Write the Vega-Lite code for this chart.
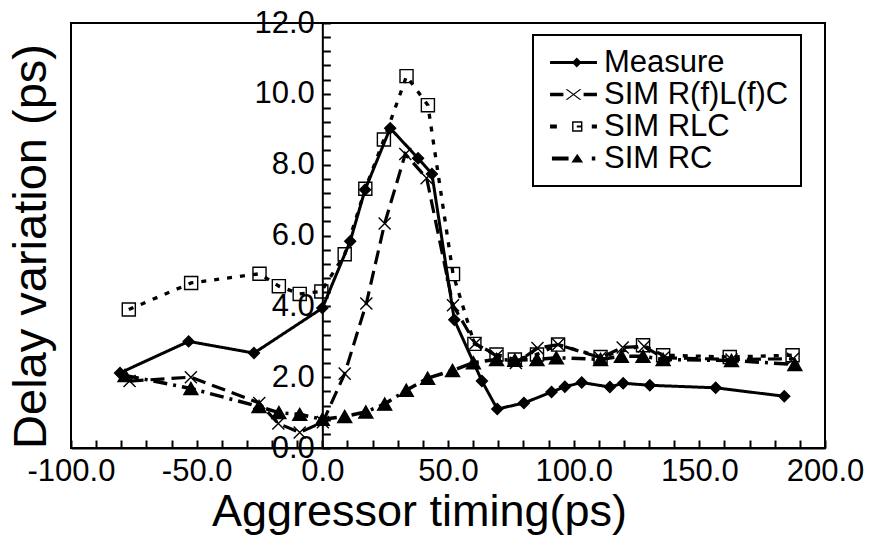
{
  "$schema": "https://vega.github.io/schema/vega-lite/v6.json",
  "width": 754,
  "height": 425,
  "autosize": "none",
  "padding": {"left": 71, "top": 23, "right": 49, "bottom": 89},
  "background": "white",
  "data": {
    "values": [
      {"series": "Measure", "x": -80.5, "y": 2.12},
      {"series": "Measure", "x": -53.2, "y": 3.01},
      {"series": "Measure", "x": -27.2, "y": 2.68},
      {"series": "Measure", "x": 0, "y": 3.95},
      {"series": "Measure", "x": 11.1, "y": 5.84},
      {"series": "Measure", "x": 17.0, "y": 7.29},
      {"series": "Measure", "x": 27.0, "y": 9.03},
      {"series": "Measure", "x": 38.1, "y": 8.18},
      {"series": "Measure", "x": 43.6, "y": 7.74},
      {"series": "Measure", "x": 52.5, "y": 3.62},
      {"series": "Measure", "x": 63.5, "y": 1.89},
      {"series": "Measure", "x": 69.6, "y": 1.1},
      {"series": "Measure", "x": 80.2, "y": 1.27},
      {"series": "Measure", "x": 91.2, "y": 1.58},
      {"series": "Measure", "x": 96.5, "y": 1.73},
      {"series": "Measure", "x": 103.2, "y": 1.85},
      {"series": "Measure", "x": 114.4, "y": 1.72},
      {"series": "Measure", "x": 119.7, "y": 1.83},
      {"series": "Measure", "x": 130.3, "y": 1.77},
      {"series": "Measure", "x": 156.5, "y": 1.7},
      {"series": "Measure", "x": 183.8, "y": 1.46},
      {"series": "SIM R(f)L(f)C", "x": -76.7, "y": 1.89},
      {"series": "SIM R(f)L(f)C", "x": -52.3, "y": 2.0},
      {"series": "SIM R(f)L(f)C", "x": -25.1, "y": 1.27},
      {"series": "SIM R(f)L(f)C", "x": -17.5, "y": 0.69},
      {"series": "SIM R(f)L(f)C", "x": -9.0, "y": 0.44},
      {"series": "SIM R(f)L(f)C", "x": 0.2, "y": 0.73},
      {"series": "SIM R(f)L(f)C", "x": 8.9, "y": 2.1},
      {"series": "SIM R(f)L(f)C", "x": 17.5, "y": 4.08},
      {"series": "SIM R(f)L(f)C", "x": 24.8, "y": 6.34},
      {"series": "SIM R(f)L(f)C", "x": 33.0, "y": 8.3},
      {"series": "SIM R(f)L(f)C", "x": 41.5, "y": 7.62},
      {"series": "SIM R(f)L(f)C", "x": 52.0, "y": 4.03},
      {"series": "SIM R(f)L(f)C", "x": 60.9, "y": 2.95},
      {"series": "SIM R(f)L(f)C", "x": 69.3, "y": 2.6},
      {"series": "SIM R(f)L(f)C", "x": 77.0, "y": 2.4},
      {"series": "SIM R(f)L(f)C", "x": 85.6, "y": 2.82},
      {"series": "SIM R(f)L(f)C", "x": 93.8, "y": 2.92},
      {"series": "SIM R(f)L(f)C", "x": 110.6, "y": 2.55},
      {"series": "SIM R(f)L(f)C", "x": 119.5, "y": 2.84},
      {"series": "SIM R(f)L(f)C", "x": 128.0, "y": 2.87},
      {"series": "SIM R(f)L(f)C", "x": 135.6, "y": 2.55},
      {"series": "SIM R(f)L(f)C", "x": 162.8, "y": 2.5},
      {"series": "SIM R(f)L(f)C", "x": 187.3, "y": 2.52},
      {"series": "SIM RLC", "x": -77.0, "y": 3.91},
      {"series": "SIM RLC", "x": -52.2, "y": 4.66},
      {"series": "SIM RLC", "x": -25.0, "y": 4.92},
      {"series": "SIM RLC", "x": -17.3, "y": 4.57},
      {"series": "SIM RLC", "x": -9.0, "y": 4.35},
      {"series": "SIM RLC", "x": -0.4, "y": 4.42},
      {"series": "SIM RLC", "x": 8.9, "y": 5.47},
      {"series": "SIM RLC", "x": 17.1, "y": 7.32},
      {"series": "SIM RLC", "x": 24.5, "y": 8.71},
      {"series": "SIM RLC", "x": 33.5, "y": 10.5},
      {"series": "SIM RLC", "x": 42.0, "y": 9.68},
      {"series": "SIM RLC", "x": 52.0, "y": 4.91},
      {"series": "SIM RLC", "x": 60.5, "y": 2.94},
      {"series": "SIM RLC", "x": 69.3, "y": 2.64},
      {"series": "SIM RLC", "x": 76.6, "y": 2.5},
      {"series": "SIM RLC", "x": 85.4, "y": 2.64},
      {"series": "SIM RLC", "x": 93.8, "y": 2.92},
      {"series": "SIM RLC", "x": 110.7, "y": 2.57},
      {"series": "SIM RLC", "x": 127.6, "y": 2.9},
      {"series": "SIM RLC", "x": 135.6, "y": 2.62},
      {"series": "SIM RLC", "x": 162.1, "y": 2.57},
      {"series": "SIM RLC", "x": 187.1, "y": 2.62},
      {"series": "SIM RC", "x": -78.5, "y": 2.05},
      {"series": "SIM RC", "x": -52.3, "y": 1.68},
      {"series": "SIM RC", "x": -25.2, "y": 1.17},
      {"series": "SIM RC", "x": -17.3, "y": 1.0},
      {"series": "SIM RC", "x": -9.0, "y": 0.95},
      {"series": "SIM RC", "x": 0, "y": 0.81},
      {"series": "SIM RC", "x": 8.9, "y": 0.89},
      {"series": "SIM RC", "x": 17.3, "y": 1.02},
      {"series": "SIM RC", "x": 24.8, "y": 1.24},
      {"series": "SIM RC", "x": 33.4, "y": 1.63},
      {"series": "SIM RC", "x": 41.9, "y": 1.97},
      {"series": "SIM RC", "x": 51.8, "y": 2.19},
      {"series": "SIM RC", "x": 60.1, "y": 2.41},
      {"series": "SIM RC", "x": 69.3, "y": 2.5},
      {"series": "SIM RC", "x": 76.6, "y": 2.48},
      {"series": "SIM RC", "x": 85.4, "y": 2.5},
      {"series": "SIM RC", "x": 93.1, "y": 2.55},
      {"series": "SIM RC", "x": 110.7, "y": 2.5},
      {"series": "SIM RC", "x": 119.0, "y": 2.59},
      {"series": "SIM RC", "x": 127.6, "y": 2.59},
      {"series": "SIM RC", "x": 135.6, "y": 2.5},
      {"series": "SIM RC", "x": 162.8, "y": 2.47},
      {"series": "SIM RC", "x": 188.0, "y": 2.36}
    ]
  },
  "encoding": {
    "x": {
      "field": "x",
      "type": "quantitative",
      "scale": {"domain": [-100, 200], "nice": false, "zero": false},
      "axis": {
        "title": "Aggressor timing(ps)",
        "values": [-100, -90, -80, -70, -60, -50, -40, -30, -20, -10, 0, 10, 20, 30, 40, 50, 60, 70, 80, 90, 100, 110, 120, 130, 140, 150, 160, 170, 180, 190, 200],
        "labelExpr": "datum.value % 50 === 0 ? replace(format(datum.value, '.1f'), '\u2212', '-') : ''",
        "tickSize": -8,
        "tickWidth": 2,
        "domainWidth": 2,
        "labelFontSize": 31,
        "labelPadding": 16,
        "labelFlush": false,
        "labelOverlap": false,
        "labelBound": false,
        "titleFontSize": 45,
        "titleX": 348,
        "titleY": 77,
        "titleAlign": "center",
        "titleBaseline": "alphabetic"
      }
    },
    "y": {
      "field": "y",
      "type": "quantitative",
      "scale": {"domain": [0, 12], "nice": false, "zero": false},
      "axis": {
        "title": "Delay variation (ps)",
        "offset": -251.33,
        "values": [0, 0.4, 0.8, 1.2, 1.6, 2, 2.4, 2.8, 3.2, 3.6, 4, 4.4, 4.8, 5.2, 5.6, 6, 6.4, 6.8, 7.2, 7.6, 8, 8.4, 8.8, 9.2, 9.6, 10, 10.4, 10.8, 11.2, 11.6, 12],
        "labelExpr": "abs(datum.value / 2 - round(datum.value / 2)) < 0.001 ? format(datum.value, '.1f') : ''",
        "tickSize": -8,
        "tickWidth": 2,
        "domainWidth": 2,
        "labelFontSize": 31,
        "labelPadding": 16,
        "labelFlush": false,
        "labelOverlap": false,
        "labelBound": false,
        "titleFontSize": 47,
        "titleAngle": -90,
        "titleX": -277,
        "titleY": 223,
        "titleAlign": "center",
        "titleBaseline": "alphabetic"
      }
    }
  },
  "layer": [
    {
      "mark": {"type": "line", "color": "black"},
      "encoding": {
        "detail": {"field": "series"},
        "strokeDash": {
          "field": "series",
          "scale": {"domain": ["Measure", "SIM R(f)L(f)C", "SIM RLC", "SIM RC"], "range": [[1, 0], [14, 7], [5, 8], [14, 6, 3, 6]]},
          "legend": null
        },
        "strokeWidth": {
          "field": "series",
          "scale": {"domain": ["Measure", "SIM R(f)L(f)C", "SIM RLC", "SIM RC"], "range": [3, 3.5, 3.5, 3.5]},
          "legend": null
        }
      }
    },
    {
      "mark": {"type": "point", "stroke": "black", "strokeWidth": 1.4, "opacity": 1},
      "encoding": {
        "shape": {
          "field": "series",
          "scale": {"domain": ["Measure", "SIM R(f)L(f)C", "SIM RLC", "SIM RC"], "range": ["diamond", "M-1,-1L1,1M1,-1L-1,1", "square", "triangle-up"]},
          "legend": null
        },
        "fill": {
          "field": "series",
          "scale": {"domain": ["Measure", "SIM R(f)L(f)C", "SIM RLC", "SIM RC"], "range": ["black", "transparent", "transparent", "black"]},
          "legend": null
        },
        "size": {
          "field": "series",
          "scale": {"domain": ["Measure", "SIM R(f)L(f)C", "SIM RLC", "SIM RC"], "range": [120, 196, 121, 150]},
          "legend": null
        }
      }
    },
    {
      "mark": {"type": "point", "filled": true, "color": "black", "opacity": 0},
      "encoding": {
        "shape": {
          "field": "series",
          "scale": {
            "domain": ["Measure", "SIM R(f)L(f)C", "SIM RLC", "SIM RC"],
            "range": [
              "M-1,-0.064H1V0.064H-1Z M0.14,-0.21L0.35,0L0.14,0.21L-0.07,0Z",
              "M-1,-0.07H-0.43V0.07H-1Z M0.43,-0.07H1V0.07H0.43Z M-0.34,-0.22L-0.26,-0.22L0.34,0.22L0.26,0.22Z M0.26,-0.22L0.34,-0.22L-0.26,0.22L-0.34,0.22Z",
              "M-1,-0.08H-0.71V0.08H-1Z M0.78,-0.08H1V0.08H0.78Z M-0.06,-0.22H0.38V0.22H-0.06Z M0,-0.16V0.16H0.32V-0.16Z M0.14,-0.04H0.32V0.04H0.14Z",
              "M-0.92,-0.08H-0.21V0.08H-0.92Z M0.16,-0.2L0.41,0.17L-0.09,0.17Z M0.78,-0.08H0.93V0.08H0.78Z"
            ]
          },
          "legend": {
            "orient": "none",
            "legendX": 462,
            "legendY": 12,
            "title": null,
            "strokeColor": "black",
            "fillColor": "white",
            "padding": 12,
            "symbolOffset": 5,
            "symbolSize": 2200,
            "symbolStrokeWidth": 0,
            "symbolOpacity": 1,
            "symbolFillColor": "black",
            "labelFont": "Liberation Sans",
            "labelFontSize": 31,
            "labelColor": "black",
            "labelOffset": 7,
            "labelLimit": 400,
            "rowPadding": 0,
            "clipHeight": 31
          }
        }
      }
    }
  ],
  "resolve": {"scale": {"shape": "independent"}},
  "config": {
    "view": {"stroke": "black", "strokeWidth": 2},
    "legend": {"strokeWidth": 2},
    "axis": {
      "grid": false,
      "domainColor": "black",
      "tickColor": "black",
      "labelColor": "black",
      "titleColor": "black",
      "labelFont": "Liberation Sans",
      "titleFont": "Liberation Sans",
      "titleFontWeight": "normal"
    }
  }
}
